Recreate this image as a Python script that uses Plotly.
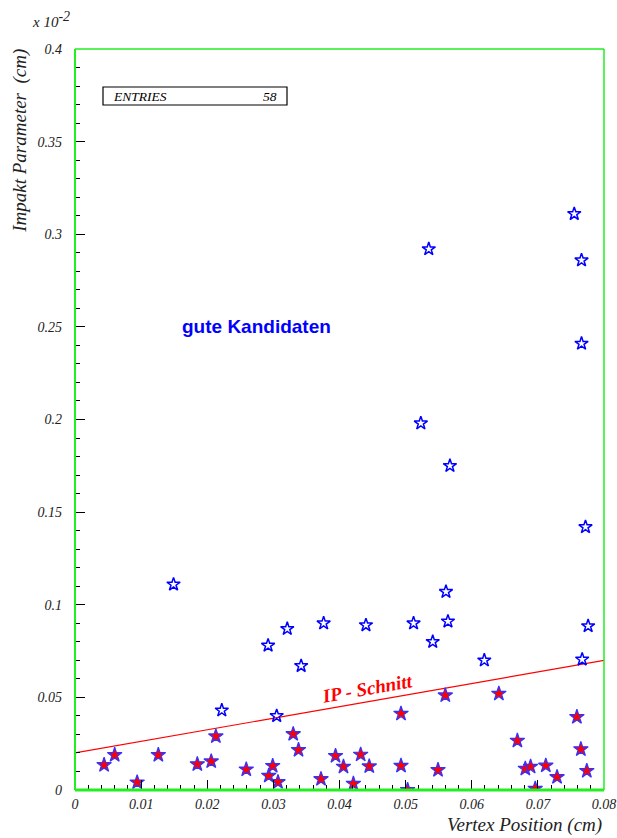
import plotly.graph_objects as go

# Candidates above the IP cut (open stars)
good_x = [0.0149, 0.0222, 0.0292, 0.0305, 0.0321, 0.0342, 0.0376, 0.0440, 0.0512,
          0.0523, 0.0535, 0.0541, 0.0561, 0.0564, 0.0567, 0.0619, 0.0755, 0.0766,
          0.0766, 0.0767, 0.0772, 0.0776]
good_y = [0.111, 0.043, 0.078, 0.040, 0.087, 0.067, 0.090, 0.089, 0.090,
          0.198, 0.292, 0.080, 0.107, 0.091, 0.175, 0.070, 0.311, 0.286,
          0.241, 0.0705, 0.142, 0.0885]

# Candidates below the IP cut (filled stars)
cut_away_x = [0.0044, 0.0060, 0.0094, 0.0126, 0.0185, 0.0206, 0.0213, 0.0259, 0.0293,
              0.0299, 0.0307, 0.0330, 0.0338, 0.0372, 0.0394, 0.0406, 0.0421, 0.0432,
              0.0445, 0.0493, 0.0493, 0.0503, 0.0549, 0.0560, 0.0641, 0.0669, 0.0681,
              0.0689, 0.0696, 0.0712, 0.0729, 0.0759, 0.0765, 0.0774]
cut_away_y = [0.0135, 0.0189, 0.0041, 0.0189, 0.0139, 0.0155, 0.0290, 0.0111, 0.0077,
              0.0130, 0.0043, 0.0302, 0.0216, 0.0059, 0.0184, 0.0126, 0.0034, 0.0191,
              0.0128, 0.0412, 0.0131, 0.0000, 0.0108, 0.0511, 0.0520, 0.0266, 0.0115,
              0.0126, 0.0007, 0.0132, 0.0070, 0.0394, 0.0220, 0.0103]

# IP cut line
cut_x = [0.0, 0.08]
cut_y = [0.02, 0.07]

entries = 58
x_range = [0, 0.08]
y_range = [0, 0.4]

GREEN = "#22ee22"
serif = "Liberation Serif, Times New Roman, serif"

fig = go.Figure()

fig.add_trace(go.Scatter(
    x=cut_x, y=cut_y, mode="lines",
    line=dict(color="#ff0000", width=1.2), hoverinfo="skip"))

fig.add_trace(go.Scatter(
    x=good_x, y=good_y, mode="markers",
    marker=dict(symbol="star-open", size=10, color="#0000ff",
                line=dict(color="#0000ff", width=1.5))))

fig.add_trace(go.Scatter(
    x=cut_away_x, y=cut_away_y, mode="markers",
    marker=dict(symbol="star", size=11, color="#ff0000",
                line=dict(color="#3333ff", width=1.2))))

axis_common = dict(
    showgrid=False, zeroline=False, showline=False, automargin=False,
    ticks="inside", ticklen=10, tickcolor="black", tickwidth=1,
    tickfont=dict(family=serif, size=14, color="#222222", style="italic"),
)

fig.update_xaxes(range=x_range, dtick=0.01, tick0=0,
                 minor=dict(ticks="inside", ticklen=5, dtick=0.002, tickcolor="black"),
                 ticklabelstandoff=4, **axis_common)
fig.update_yaxes(range=y_range, dtick=0.05, tick0=0,
                 minor=dict(ticks="inside", ticklen=5, dtick=0.01, tickcolor="black"),
                 ticklabelstandoff=12, **axis_common)

# Frame around the pad
fig.add_shape(type="line", xref="paper", yref="paper", x0=0, x1=0, y0=0, y1=1,
              line=dict(color=GREEN, width=2))
fig.add_shape(type="line", xref="paper", yref="paper", x0=1, x1=1, y0=0, y1=1,
              line=dict(color=GREEN, width=1.5))
fig.add_shape(type="line", xref="paper", yref="paper", x0=0, x1=1, y0=1, y1=1,
              line=dict(color=GREEN, width=1.5))
fig.add_shape(type="line", xref="paper", yref="paper", x0=0, x1=1, y0=0, y1=0,
              line=dict(color=GREEN, width=3))

# Statistics box
fig.add_shape(type="rect", xref="paper", yref="paper",
              x0=(103 - 75) / 529, x1=(287 - 75) / 529,
              y0=(790 - 105) / 741, y1=(790 - 87) / 741,
              line=dict(color="black", width=1.2), fillcolor="white")

annotations = [
    dict(text="ENTRIES", x=(111 - 75) / 529, y=(790 - 96) / 741, xanchor="left",
         yanchor="middle", font=dict(family=serif, size=13.5, color="black", style="italic")),
    dict(text=str(entries), x=(279 - 75) / 529, y=(790 - 96) / 741, xanchor="right",
         yanchor="middle", font=dict(family=serif, size=13.5, color="black", style="italic")),
    dict(text="gute Kandidaten", x=(256 - 75) / 529, y=(790 - 326) / 741,
         xanchor="center", yanchor="middle",
         font=dict(family="Liberation Sans, Arial, sans-serif", size=19,
                   color="#0000ff", weight="bold")),
    dict(text="IP - Schnitt", x=(367 - 75) / 529, y=(790 - 688) / 741,
         xanchor="center", yanchor="middle", textangle=-10,
         font=dict(family=serif, size=19, color="#ff0000", weight="bold", style="italic")),
    dict(text="Vertex Position (cm)", x=1, y=-35 / 741, xanchor="right", yanchor="middle",
         font=dict(family=serif, size=19, color="#222222", style="italic")),
    dict(text="Impakt Parameter  (cm)", x=-55 / 529, y=1.003, xanchor="center", yanchor="top",
         textangle=-90,
         font=dict(family=serif, size=19, color="#222222", style="italic")),
    dict(text="x 10<sup><span style='font-size:14px'>-2</span></sup>",
         x=-45 / 529, y=1 + 29 / 741, xanchor="left", yanchor="middle",
         font=dict(family=serif, size=15, color="#222222", style="italic")),
]
for a in annotations:
    a.update(xref="paper", yref="paper", showarrow=False)
fig.update_layout(annotations=annotations)

fig.update_layout(
    width=617, height=838,
    margin=dict(l=75, r=13, t=49, b=48),
    plot_bgcolor="white", paper_bgcolor="white",
    showlegend=False,
)

fig.write_html("out.html")
